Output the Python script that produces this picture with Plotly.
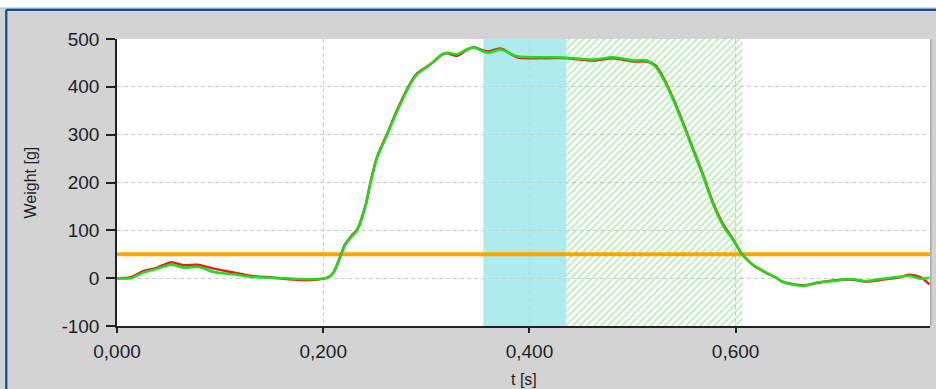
import plotly.graph_objects as go

# Time axis [s] and the two weight signals [g]
t = [0.000, 0.013, 0.026, 0.039, 0.052, 0.065, 0.078, 0.094, 0.113, 0.129,
     0.152, 0.178, 0.194, 0.204, 0.210, 0.217, 0.221, 0.228, 0.233, 0.241,
     0.246, 0.252, 0.262, 0.272, 0.283, 0.291, 0.304, 0.315, 0.320,
     0.330, 0.339, 0.346, 0.354, 0.360, 0.372, 0.388, 0.414, 0.436, 0.462,
     0.481, 0.501, 0.514, 0.522, 0.530, 0.540, 0.549, 0.559, 0.569, 0.578,
     0.588, 0.598, 0.606, 0.616, 0.627, 0.640, 0.646, 0.666, 0.679, 0.695,
     0.711, 0.727, 0.743, 0.759, 0.769, 0.779, 0.788]

weight_raw = [0, 2, 15, 22, 33, 27, 28, 20, 12, 5,
              1, -4, -3, 1, 12, 48, 70, 90, 102, 152,
              202, 252, 302, 353, 402, 428, 447, 467, 470,
              465, 477, 483, 477, 474, 480, 462, 460, 460, 455,
              460, 453, 453, 445, 419, 373, 325, 269, 213, 158,
              112, 80, 51, 29, 14, 0, -8, -15, -10, -5,
              -3, -7, -3, 2, 7, 2, -13]

weight_filtered = [0, 0, 12, 20, 28, 22, 24, 13, 8, 3,
                   1, -2, -2, 1, 12, 47, 68, 88, 100, 150,
                   200, 250, 300, 350, 400, 426, 447, 468, 471,
                   468, 478, 482, 475, 471, 478, 464, 462, 461, 457,
                   462, 455, 455, 443, 416, 370, 322, 266, 210, 155,
                   109, 78, 50, 29, 15, 0, -8, -16, -9, -6,
                   -2, -6, -1, 3, 5, -1, 1]

threshold = 50                      # trigger level [g]
settle_window = (0.3553, 0.4357)    # settling window [s]
measure_window = (0.4357, 0.6067)   # measuring window [s]

x_range = [0, 0.7885]
y_range = [-100, 500]
x_ticks = [0.0, 0.2, 0.4, 0.6]
x_ticklabels = ["0,000", "0,200", "0,400", "0,600"]
y_ticks = [-100, 0, 100, 200, 300, 400, 500]
y_ticklabels = ["-100", "0", "100", "200", "300", "400", "500"]

BG = "#D3D3D3"
BLUE = "#0E4C8C"
tick_font = dict(family="Liberation Sans, Arial, sans-serif", size=19, color="#1E1E28")
title_font = dict(family="Liberation Sans, Arial, sans-serif", size=16, color="#1E1E28")

fig = go.Figure()

# hatched measuring window
fig.add_trace(go.Scatter(
    x=[measure_window[0], measure_window[1], measure_window[1], measure_window[0], measure_window[0]],
    y=[y_range[0], y_range[0], y_range[1], y_range[1], y_range[0]],
    mode="lines", line=dict(width=0), fill="toself",
    fillcolor="rgba(0,0,0,0)",
    fillpattern=dict(shape="/", fgcolor="#8EDC8E", bgcolor="rgba(255,255,255,0)",
                     size=5, solidity=0.45, fillmode="overlay"),
    hoverinfo="skip", showlegend=False,
))

# trigger threshold
fig.add_trace(go.Scatter(
    x=x_range, y=[threshold, threshold], mode="lines",
    line=dict(color="#FFA500", width=4), hoverinfo="skip", showlegend=False,
))

fig.add_trace(go.Scatter(
    x=t, y=weight_raw, mode="lines",
    line=dict(color="#EE1A1A", width=2.5, shape="spline", smoothing=0.8),
    showlegend=False,
))
fig.add_trace(go.Scatter(
    x=t, y=weight_filtered, mode="lines",
    line=dict(color="#1EDC1E", width=2.5, shape="spline", smoothing=0.8),
    showlegend=False,
))

shapes = [
    # settling window
    dict(type="rect", xref="x", yref="y", layer="below",
         x0=settle_window[0], x1=settle_window[1], y0=y_range[0], y1=y_range[1],
         fillcolor="#AEEBEC", line=dict(width=0)),
    # right border of the plot area
    dict(type="line", xref="paper", yref="paper", x0=1.001, x1=1.001, y0=0, y1=1,
         line=dict(color="#A8A8A8", width=1.5)),
    # window frame: white strip on top, blue edges
    dict(type="rect", xref="paper", yref="paper", x0=-0.2, x1=1.2, y0=1.108, y1=1.2,
         fillcolor="white", line=dict(width=0)),
    dict(type="line", xref="paper", yref="paper", x0=-0.2, x1=1.2, y0=1.1077, y1=1.1077,
         line=dict(color="#9DB9D8", width=1)),
    dict(type="line", xref="paper", yref="paper", x0=-0.1362, x1=1.2, y0=1.1017, y1=1.1017,
         line=dict(color=BLUE, width=2.2)),
    dict(type="line", xref="paper", yref="paper", x0=-0.1362, x1=-0.1362, y0=-0.3, y1=1.1017,
         line=dict(color=BLUE, width=2.2)),
]

fig.update_layout(
    width=936, height=389,
    margin=dict(l=117, r=6, t=39, b=63),
    paper_bgcolor=BG, plot_bgcolor="white",
    shapes=shapes,
    hovermode=False,
    annotations=[
        dict(text="Weight [g]", xref="paper", yref="paper", x=-0.107, y=0.5,
             textangle=-90, showarrow=False, font=title_font,
             xanchor="center", yanchor="middle"),
        dict(text="t [s]", xref="paper", yref="paper", x=0.5, y=-0.188,
             showarrow=False, font=title_font, xanchor="center", yanchor="middle"),
    ],
)

fig.update_xaxes(
    range=x_range, tickvals=x_ticks, ticktext=x_ticklabels,
    ticks="outside", ticklen=5, tickwidth=1.5, tickcolor="#222",
    showline=True, linecolor="#222", linewidth=1.5,
    showgrid=True, gridcolor="#CDCDCD", gridwidth=1, griddash="4px,3px",
    zeroline=False, tickfont=tick_font, ticklabelstandoff=2,
)
fig.update_yaxes(
    range=y_range, tickvals=y_ticks, ticktext=y_ticklabels,
    ticks="outside", ticklen=9, tickwidth=1.5, tickcolor="#222",
    showline=True, linecolor="#222", linewidth=1.5,
    showgrid=True, gridcolor="#CDCDCD", gridwidth=1, griddash="4px,3px",
    zeroline=False, tickfont=tick_font, ticklabelstandoff=3,
)

fig.write_html("out.html")
